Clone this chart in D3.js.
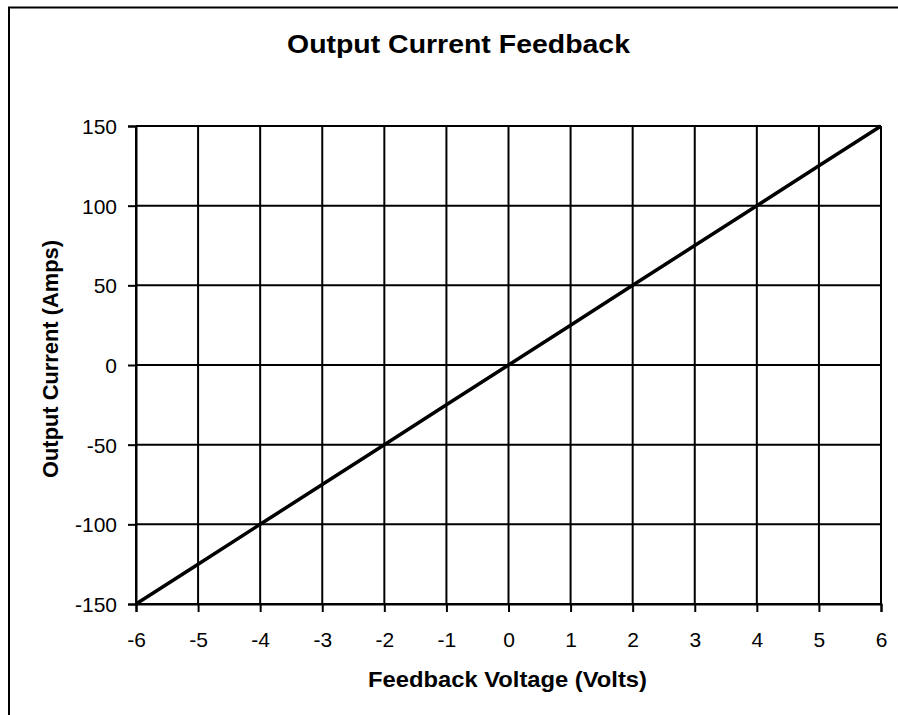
<!DOCTYPE html>
<html>
<head>
<meta charset="utf-8">
<script src="https://cdn.jsdelivr.net/npm/d3@7"></script>
<style>
  html, body { margin: 0; padding: 0; background: #fff; }
  svg { display: block; }
  text { font-family: "Liberation Sans", Arial, Helvetica, sans-serif; fill: #000; }
</style>
</head>
<body>
<svg id="chart" width="898" height="715"></svg>
<script>
const title = "Output Current Feedback";
const xLabel = "Feedback Voltage (Volts)";
const yLabel = "Output Current (Amps)";
const voltage = [-6, -5, -4, -3, -2, -1, 0, 1, 2, 3, 4, 5, 6];
const current = [-150, -125, -100, -75, -50, -25, 0, 25, 50, 75, 100, 125, 150];
const xTicks = [-6, -5, -4, -3, -2, -1, 0, 1, 2, 3, 4, 5, 6];
const yTicks = [-150, -100, -50, 0, 50, 100, 150];

const svg = d3.select("#chart");
const plot = { left: 136, top: 126, right: 881, bottom: 604 };

// outer frame (extends beyond the window on right/bottom)
svg.append("rect")
  .attr("x", 9).attr("y", 7.5)
  .attr("width", 1000).attr("height", 1000)
  .attr("fill", "none").attr("stroke", "#000").attr("stroke-width", 2);

const x = d3.scaleLinear().domain([-6, 6]).range([plot.left, plot.right]);
const y = d3.scaleLinear().domain([-150, 150]).range([plot.bottom, plot.top]);

const g = svg.append("g");

// vertical gridlines
g.selectAll(".vgrid").data(xTicks).join("line")
  .attr("x1", d => x(d)).attr("x2", d => x(d))
  .attr("y1", plot.top).attr("y2", plot.bottom)
  .attr("stroke", "#000").attr("stroke-width", 2);
// horizontal gridlines
g.selectAll(".hgrid").data(yTicks).join("line")
  .attr("x1", plot.left).attr("x2", plot.right)
  .attr("y1", d => y(d)).attr("y2", d => y(d))
  .attr("stroke", "#000").attr("stroke-width", 2);

// axes (hyphen-minus like the reference)
const fmt = d => String(d);
const xAxis = d3.axisBottom(x).tickValues(xTicks).tickSize(8).tickPadding(20).tickFormat(fmt);
const yAxis = d3.axisLeft(y).tickValues(yTicks).tickSize(8).tickPadding(11).tickFormat(fmt);

const gx = svg.append("g").attr("transform", `translate(0,${plot.bottom})`).call(xAxis);
const gy = svg.append("g").attr("transform", `translate(${plot.left},0)`).call(yAxis);
[gx, gy].forEach(a => {
  a.select(".domain").attr("stroke", "#000").attr("stroke-width", 2);
  a.selectAll(".tick line").attr("stroke", "#000").attr("stroke-width", 2);
  a.selectAll(".tick text").attr("fill", "#000")
    .style("font-family", '"Liberation Sans", Arial, sans-serif').style("font-size", "21px");
});
gy.selectAll(".tick text").attr("dy", "0.36em");

// data line
const line = d3.line().x((d, i) => x(voltage[i])).y(d => y(d));
svg.append("path").datum(current)
  .attr("d", line).attr("fill", "none")
  .attr("stroke", "#000").attr("stroke-width", 3.5);

// titles
svg.append("text").attr("x", 458.5).attr("y", 53)
  .attr("text-anchor", "middle").style("font-size", "26px").style("font-weight", "bold")
  .attr("textLength", 343).attr("lengthAdjust", "spacingAndGlyphs")
  .text(title);
svg.append("text").attr("x", 507.5).attr("y", 687)
  .attr("text-anchor", "middle").style("font-size", "22px").style("font-weight", "bold")
  .attr("textLength", 279).attr("lengthAdjust", "spacingAndGlyphs")
  .text(xLabel);
svg.append("text").attr("transform", `translate(58,359) rotate(-90)`)
  .attr("text-anchor", "middle").style("font-size", "22px").style("font-weight", "bold")
  .attr("textLength", 238).attr("lengthAdjust", "spacingAndGlyphs")
  .text(yLabel);
</script>
</body>
</html>
